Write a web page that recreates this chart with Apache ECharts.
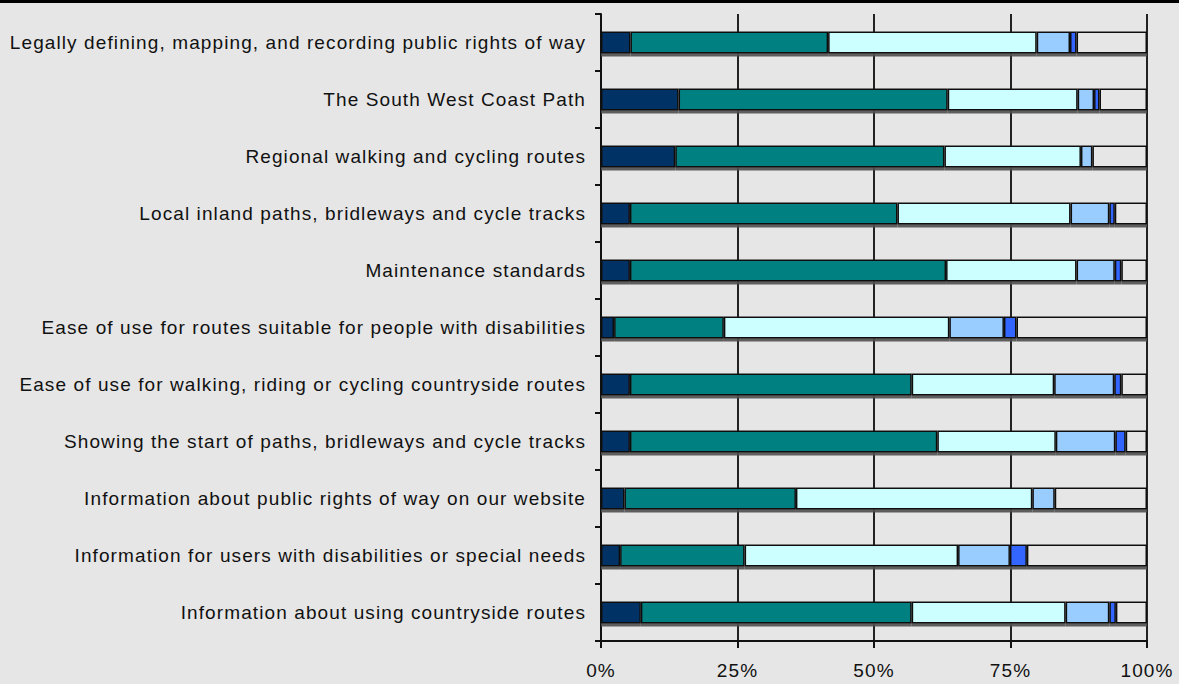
<!DOCTYPE html>
<html>
<head>
<meta charset="utf-8">
<script src="https://cdn.jsdelivr.net/npm/echarts@6/dist/echarts.min.js"></script>
<style>
html,body{margin:0;padding:0;background:#e6e6e6;}
#chart{width:1179px;height:684px;}
#chart svg text{letter-spacing:1.1px;}
</style>
</head>
<body>
<div id="chart"></div>
<script>
const categories = [
  "Legally defining, mapping, and recording public rights of way",
  "The South West Coast Path",
  "Regional walking and cycling routes",
  "Local inland paths, bridleways and cycle tracks",
  "Maintenance standards",
  "Ease of use for routes suitable for people with disabilities",
  "Ease of use for walking, riding or cycling countryside routes",
  "Showing the start of paths, bridleways and cycle tracks",
  "Information about public rights of way on our website",
  "Information for users with disabilities or special needs",
  "Information about using countryside routes"
];
const verySatisfied      = [5.4, 14.2, 13.6, 5.3, 5.3, 2.4, 5.3, 5.3, 4.3, 3.5, 7.3];
const fairlySatisfied    = [36.2, 49.3, 49.3, 49.0, 57.9, 20.1, 51.6, 56.3, 31.4, 22.8, 49.6];
const neither            = [38.2, 23.8, 25.0, 31.7, 23.9, 41.3, 26.1, 21.7, 43.3, 39.1, 28.2];
const fairlyDissatisfied = [6.1, 3.0, 2.1, 7.1, 7.0, 10.0, 11.0, 10.9, 4.1, 9.5, 8.0];
const veryDissatisfied   = [1.2, 1.0, 0, 1.0, 1.2, 2.3, 1.3, 1.9, 0, 3.1, 1.2];
const noOpinion          = [12.9, 8.7, 10.0, 5.9, 4.7, 23.9, 4.7, 3.9, 16.9, 22.0, 5.7];
const xTicks = [0, 25, 50, 75, 100];

const seriesDefs = [
  ["Very satisfied", verySatisfied, "#003366"],
  ["Fairly satisfied", fairlySatisfied, "#008080"],
  ["Neither satisfied nor dissatisfied", neither, "#ccffff"],
  ["Fairly dissatisfied", fairlyDissatisfied, "#99ccff"],
  ["Very dissatisfied", veryDissatisfied, "#3366ff"],
  ["No opinion", noOpinion, "#e6e6e6"]
];

const chart = echarts.init(document.getElementById('chart'), null, {renderer:'svg'});
chart.setOption({
  backgroundColor: '#e6e6e6',
  animation: false,
  grid: {left: 601, right: 32, top: 14, bottom: 43, containLabel: false},
  xAxis: {
    type: 'value', min: xTicks[0], max: xTicks[xTicks.length-1], interval: 25,
    axisLine: {show: true, lineStyle: {color: '#111', width: 2}},
    axisTick: {show: true, length: 7, lineStyle: {color: '#111', width: 2}},
    axisLabel: {formatter: '{value}%', fontFamily: 'Liberation Sans, Arial, sans-serif', fontSize: 19, color: '#111', margin: 20},
    splitLine: {show: true, lineStyle: {color: '#222', width: 2}}
  },
  yAxis: {
    type: 'category', data: categories, inverse: true,
    axisLine: {show: true, lineStyle: {color: '#111', width: 2}},
    axisTick: {show: true, length: 6, inside: false, lineStyle: {color: '#111', width: 2}},
    axisLabel: {fontFamily: 'Liberation Sans, Arial, sans-serif', fontSize: 19, color: '#111', margin: 15},
    splitLine: {show: false}
  },
  series: seriesDefs.map(([name, data, color]) => ({
    name, type: 'bar', stack: 'total', data,
    barWidth: 22,
    itemStyle: {color, borderColor: '#111', borderWidth: 1.5,
      shadowColor: 'rgba(80,80,80,0.9)', shadowOffsetY: 3, shadowOffsetX: 0, shadowBlur: 0}
  })),
  graphic: [{
    type: 'line', shape: {x1: 0, y1: 1.5, x2: 1179, y2: 1.5},
    style: {stroke: '#000', lineWidth: 3}
  }]
});
</script>
</body>
</html>
